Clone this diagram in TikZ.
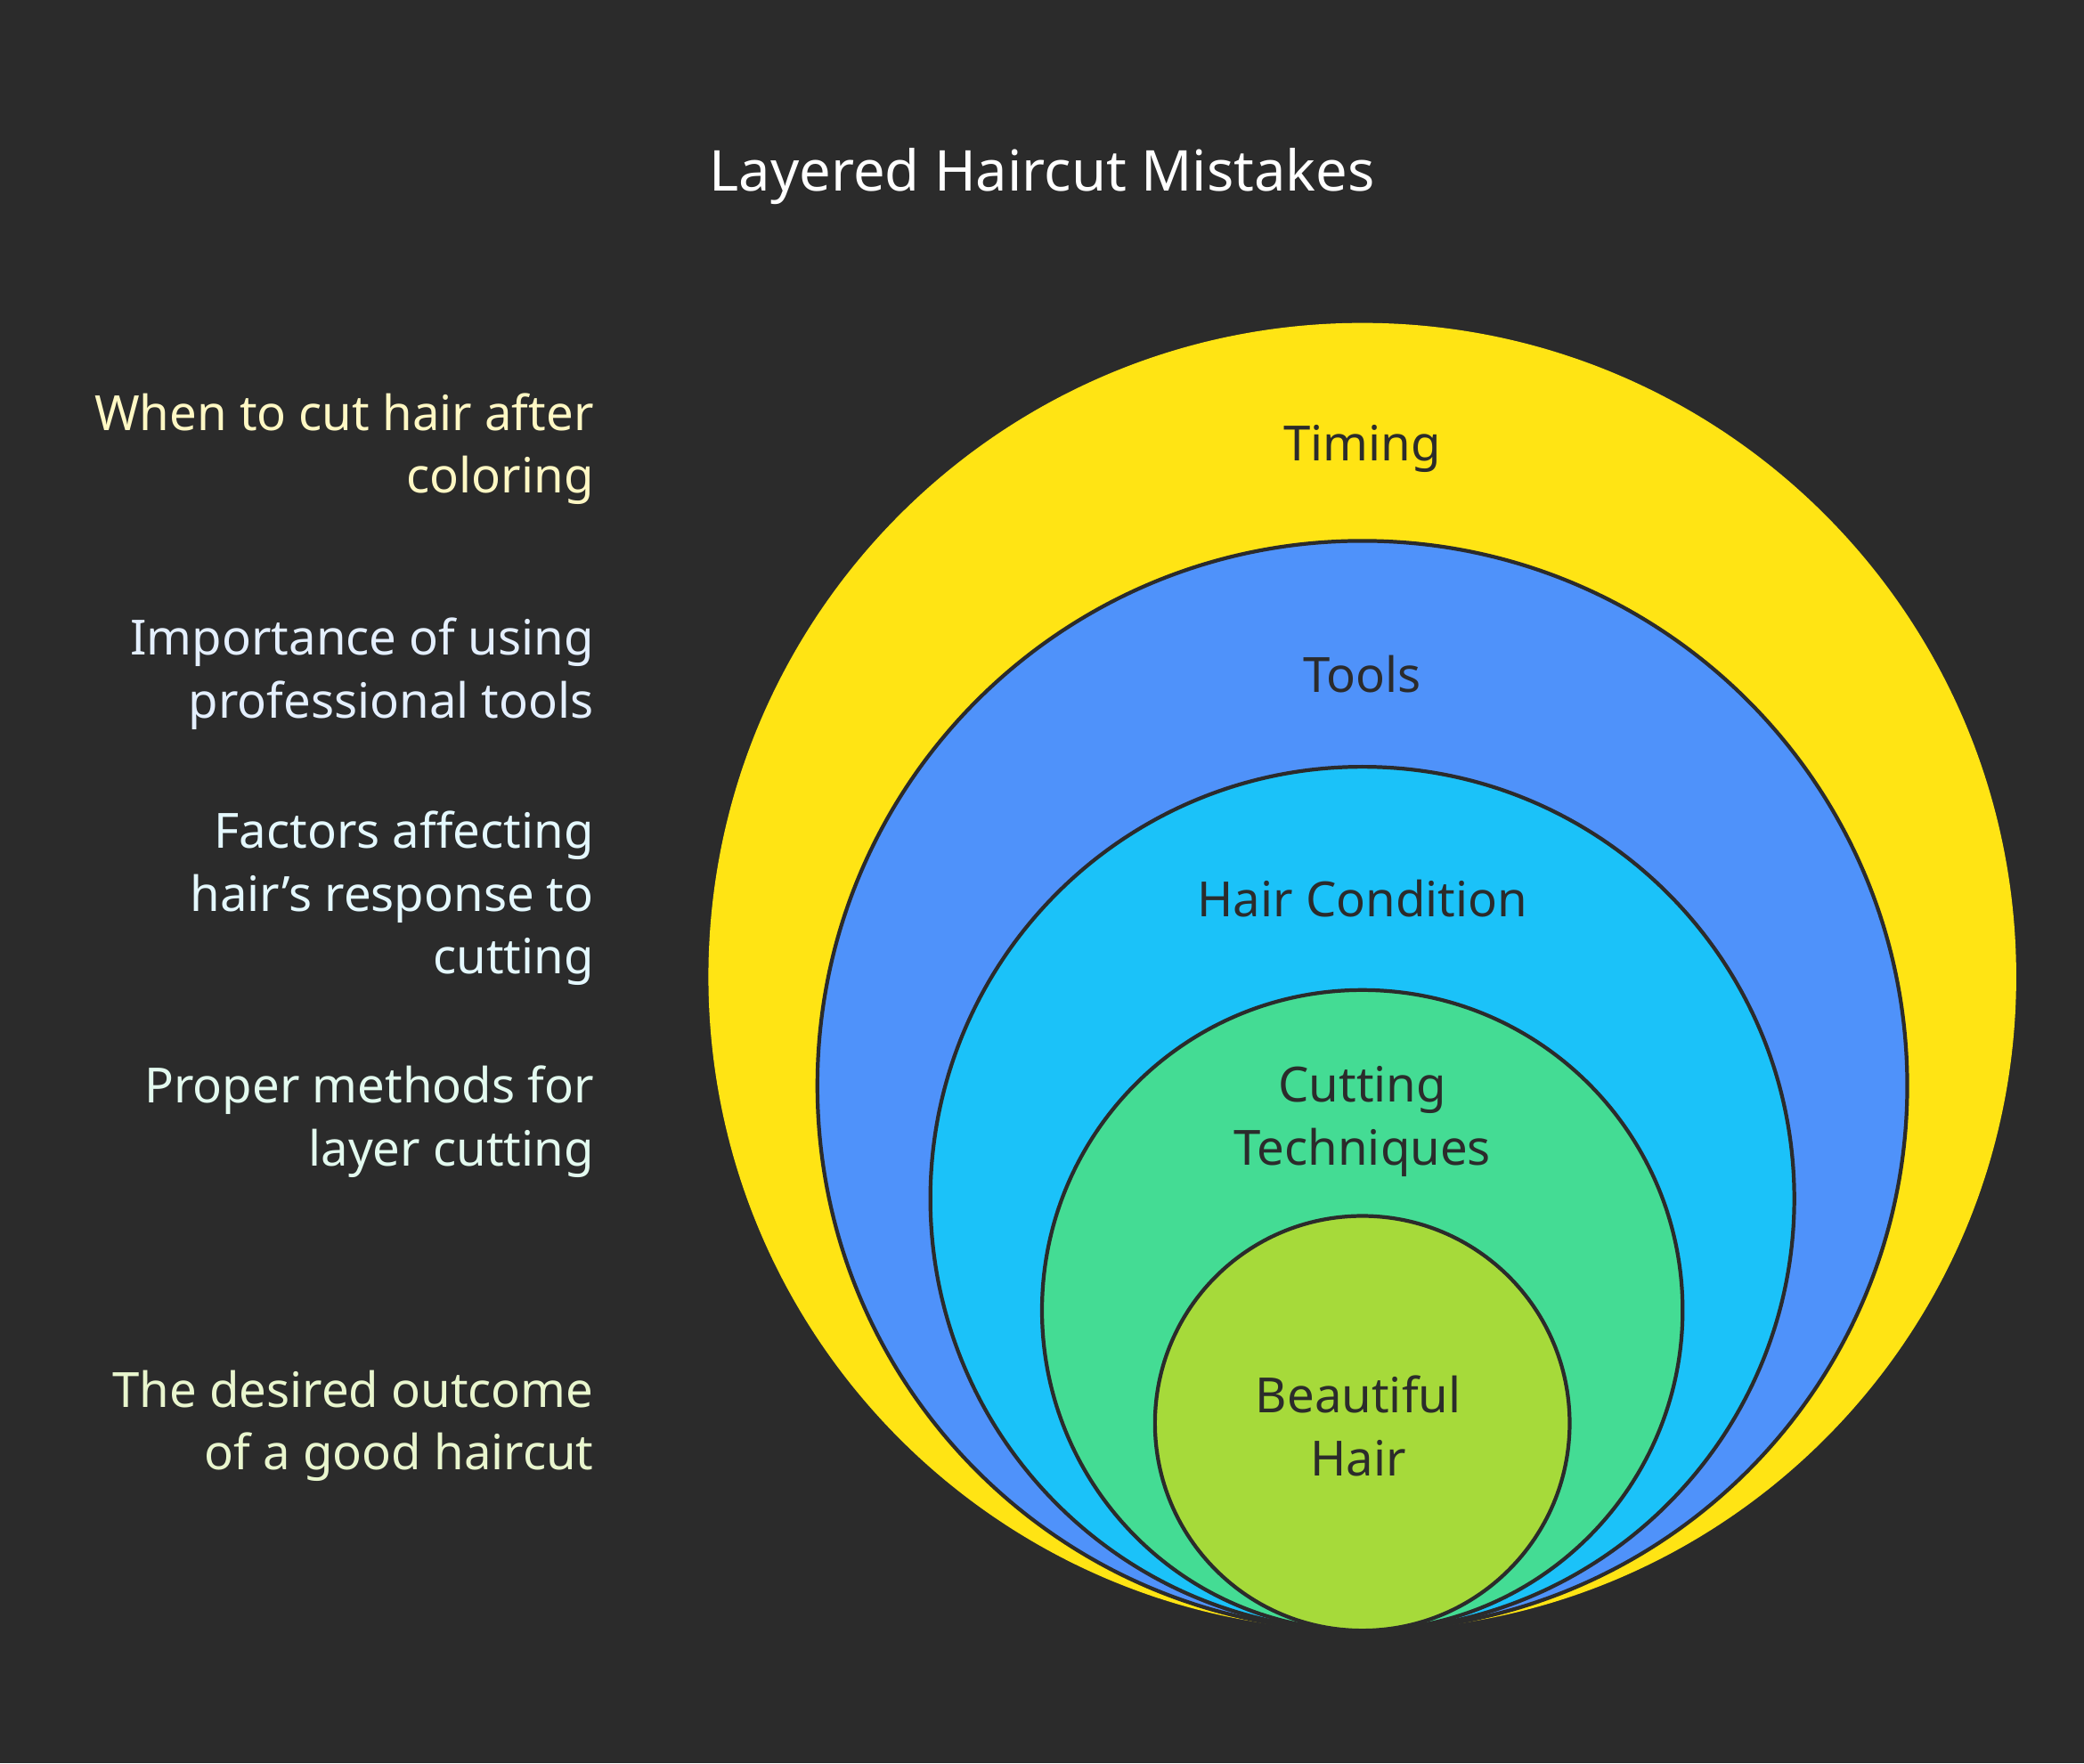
\documentclass[tikz,border=0pt]{standalone}
\usepackage{fontspec}
\setmainfont{Noto Sans}
\usetikzlibrary{positioning}

\definecolor{bgdark}{HTML}{2B2B2B}
\definecolor{ringyellow}{HTML}{FFE414}
\definecolor{ringblue}{HTML}{4F92FA}
\definecolor{ringcyan}{HTML}{1BC2F9}
\definecolor{ringgreen}{HTML}{44DC94}
\definecolor{ringlime}{HTML}{A6DA3A}

\tikzset{
  ring/.style={draw=bgdark, line width=1.2pt},
  ringlabel/.style={text=bgdark, align=center, font=\fontsize{15.5}{20}\selectfont},
  sidenote/.style={anchor=east, align=right, font=\fontsize{15.5}{20}\selectfont}
}

\begin{document}
\begin{tikzpicture}[x=0.014923cm, y=-0.014923cm]
    \fill[bgdark] (0,0) rectangle (1568,1327);
    \useasboundingbox (0,0) rectangle (1568,1327);

    \node[text=white, font=\bfseries\fontsize{18}{22}\selectfont] (title) at (784,133) {Layered Haircut Mistakes};

    % nested rings
    \fill[ringyellow] (1025,735) circle (492);
    \draw[ring, fill=ringblue] (1025,817) circle (410);
    \draw[ring, fill=ringcyan] (1025,902) circle (325);
    \draw[ring, fill=ringgreen] (1025,986) circle (241);
    \draw[ring, fill=ringlime] (1025,1071) circle (156);

    \node[ringlabel] (timing) at (1025,338) {Timing};
    \node[ringlabel] (tools) at (1025,507) {Tools};
    \node[ringlabel] (condition) at (1025,676) {Hair Condition};
    \node[ringlabel] (techniques) at (1025,844) {Cutting\\Techniques};
    \node[ringlabel] (beautiful) at (1022,1073) {Beautiful\\Hair};

    % side notes
    \node[sidenote, text=ringyellow!25!white] (notetiming) at (455,338) {When to cut hair after\\coloring};
    \node[sidenote, text=ringblue!15!white] (notetools) at (455,507) {Importance of using\\professional tools};
    \node[sidenote, text=ringcyan!12!white] (notecondition) at (455,676) {Factors affecting\\hair's response to\\cutting};
    \node[sidenote, text=ringgreen!15!white] (notetechniques) at (455,844) {Proper methods for\\layer cutting};
    \node[sidenote, text=ringlime!25!white] (notebeautiful) at (455,1073) {The desired outcome\\of a good haircut};
\end{tikzpicture}
\end{document}
